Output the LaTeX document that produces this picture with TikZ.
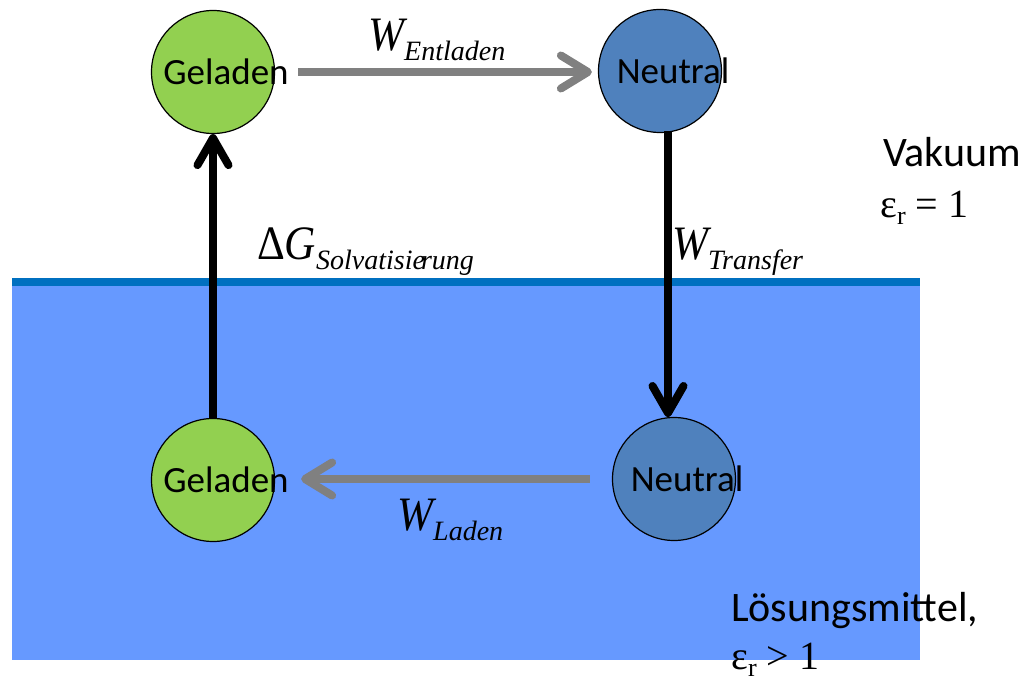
\documentclass[tikz,border=0pt]{standalone}
\usepackage{fontspec}
\usepackage{graphicx}
\setmainfont{Liberation Serif}
\newfontfamily\calfont{Carlito}
\usetikzlibrary{arrows.meta}
\definecolor{gelgreen}{HTML}{92D050}
\definecolor{neublue}{HTML}{4F81BD}
\definecolor{solv}{HTML}{6699FF}
\definecolor{surf}{HTML}{0070C0}
\definecolor{agray}{HTML}{808080}
\newcommand{\eqbig}[1]{{\fontsize{48}{48}\selectfont\scalebox{0.9}[1]{#1}}}
\newcommand{\eqsub}[1]{\raisebox{-10pt}{\fontsize{28}{28}\selectfont\itshape #1}}
\begin{document}
\begin{tikzpicture}[x=1pt,y=-1pt,
  ion/.style={circle, draw=black, line width=1.2pt, minimum size=123pt, inner sep=0pt},
  gel/.style={ion, fill=gelgreen, label={[xshift=13pt, font=\calfont\fontsize{37}{44}\selectfont]center:Geladen}},
  neu/.style={ion, fill=neublue, label={[xshift=13pt, font=\calfont\fontsize{37}{44}\selectfont]center:Neutral}},
  garrow/.style={draw=agray, line width=8pt, -{Straight Barb[length=27pt,width=33pt,round]}},
  barrow/.style={draw=black, line width=8pt, -{Straight Barb[length=27pt,width=31pt,round]}},
  eqlab/.style={anchor=base west, inner sep=0pt},
  sidetxt/.style={anchor=base west, inner sep=0pt, font=\calfont\fontsize{42}{50}\selectfont},
  epstxt/.style={anchor=base west, inner sep=0pt, font=\fontsize{40}{48}\selectfont}]
\useasboundingbox (0,0) rectangle (1019,692);
% solvent
\fill[solv] (12,280) rectangle (920,660);
\fill[surf] (12,278) rectangle (920,286);
% states
\node[gel] (g1) at (213,72) {};
\node[neu] (n1) at (660,71) {};
\node[gel] (g2) at (213,480) {};
\node[neu] (n2) at (674,479) {};
% connectors
\coordinate (d1) at (668,131);
\coordinate (d2) at (668,417);
\draw[garrow, shorten <=23pt, shorten >=6pt] (g1.east) -- (g1.east -| n1.west);
\draw[garrow, shorten <=22pt, shorten >=26pt] (n2.west) -- (n2.west -| g2.east);
\draw[barrow] (g2.north) -- (g1.south);
\draw[barrow] (d1) -- (d2);
% labels
\node[eqlab] (lE) at (368,51) {\eqbig{\itshape W}\eqsub{Entladen}};
\node[eqlab] (lS) at (257,260) {\eqbig{Δ\itshape G}\eqsub{Solvatisi\rlap{e}\kern0.3em rung}};
\node[eqlab] (lT) at (672,260) {\eqbig{\itshape W}\eqsub{Transfer}};
\node[eqlab] (lL) at (397,530) {\eqbig{\itshape W}\eqsub{Laden}};
\node[sidetxt] (vak) at (883,167) {Vakuum};
\node[epstxt] (e1) at (880,218) {ε\raisebox{-7pt}{\fontsize{26}{26}\selectfont r} = 1};
\node[sidetxt] (lsg) at (731,621) {Lösungsmittel,};
\node[epstxt] (e2) at (731,669) {ε\raisebox{-7pt}{\fontsize{26}{26}\selectfont r} > 1};
\end{tikzpicture}
\end{document}
